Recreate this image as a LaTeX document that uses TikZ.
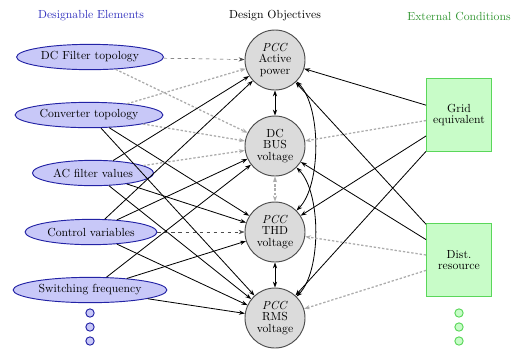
\documentclass[tikz,border=0pt]{standalone}
\usetikzlibrary{shapes.geometric}
\usetikzlibrary{arrows.meta}

\definecolor{elemfill}{RGB}{200,200,248}
\definecolor{elemline}{RGB}{35,35,165}
\definecolor{elemtext}{RGB}{50,50,190}
\definecolor{condfill}{RGB}{200,252,200}
\definecolor{condline}{RGB}{90,215,90}
\definecolor{condtext}{RGB}{50,150,50}

\begin{document}
\begin{tikzpicture}[x=0.03cm, y=-0.03cm, >={Stealth[length=5pt,width=3.6pt]},
  elem/.style={ellipse, draw=elemline, fill=elemfill, thick, inner xsep=2.5pt, inner ysep=0pt, minimum height=0.76cm},
  objective/.style={circle, draw=black!70, fill=black!14, thick, minimum size=1.8cm, inner sep=0pt, align=center, font=\fontsize{10}{10}\selectfont},
  extcond/.style={rectangle, draw=condline, fill=condfill, thick, minimum width=1.95cm, minimum height=2.2cm, align=center, font=\fontsize{10}{10}\selectfont},
  elemdot/.style={circle, draw=elemline, fill=elemfill, thick, minimum size=0.25cm, inner sep=0pt},
  conddot/.style={circle, draw=condline, fill=condfill, thick, minimum size=0.25cm, inner sep=0pt},
  strong/.style={->, line width=0.7pt},
  weak/.style={->, gray!65, line width=1.1pt, dash pattern=on 2pt off 1.6pt},
  hint/.style={->, gray!60!black, thin, dashed}]
  \useasboundingbox (0,0) rectangle (512,351);

  \node[text=elemtext] (elemtitle) at (91,16) {Designable Elements};
  \node (objtitle) at (275,16) {Design Objectives};
  \node[text=condtext] (condtitle) at (459,16) {External Conditions};

  \node[elem] (dcf) at (90,57) {DC Filter topology};
  \node[elem] (conv) at (89,115) {Converter topology};
  \node[elem] (acf) at (93,173) {AC filter values};
  \node[elem] (ctrl) at (91,232) {Control variables};
  \node[elem] (swf) at (90,290) {Switching frequency};

  \node[objective] (act) at (275,60) {\textit{PCC}\\Active\\power};
  \node[objective] (bus) at (275,146) {DC\\BUS\\voltage};
  \node[objective] (thd) at (275,232) {\textit{PCC}\\THD\\voltage};
  \node[objective] (rms) at (275,318) {\textit{PCC}\\RMS\\voltage};

  \node[extcond] (grid) at (459,115) {Grid\\equivalent};
  \node[extcond] (dist) at (459,260) {Dist.\\resource};

  \foreach \y [count=\i] in {313,327,341} {
    \node[elemdot] (edot\i) at (90,\y) {};
    \node[conddot] (cdot\i) at (459,\y) {};
  }

  \draw[hint] (dcf) -- (act);
  \draw[weak] (dcf) -- (bus);
  \draw[weak] (conv) -- (act);
  \draw[weak] (conv) -- (bus);
  \draw[strong] (conv) -- (thd);
  \draw[strong] (conv) -- (rms);
  \draw[strong] (acf) -- (act);
  \draw[weak] (acf) -- (bus);
  \draw[strong] (acf) -- (thd);
  \draw[strong] (acf) -- (rms);
  \draw[strong] (ctrl) -- (act);
  \draw[strong] (ctrl) -- (bus);
  \draw[hint] (ctrl) -- (thd);
  \draw[strong] (ctrl) -- (rms);
  \draw[strong] (swf) -- (bus);
  \draw[strong] (swf) -- (thd);
  \draw[strong] (swf) -- (rms);

  \draw[strong, <->] (act) -- (bus);
  \draw[weak, <->] (bus) -- (thd);
  \draw[strong, <->] (thd) -- (rms);
  \draw[strong, <->] (act) to[bend left=45, looseness=0.7] (thd);
  \draw[strong, <->] (bus) to[bend left=45, looseness=0.7] (rms);

  \draw[strong] (grid) -- (act);
  \draw[weak] (grid) -- (bus);
  \draw[strong] (grid) -- (thd);
  \draw[strong] (grid) -- (rms);
  \draw[strong] (dist) -- (act);
  \draw[strong] (dist) -- (bus);
  \draw[weak] (dist) -- (thd);
  \draw[weak] (dist) -- (rms);
\end{tikzpicture}
\end{document}
